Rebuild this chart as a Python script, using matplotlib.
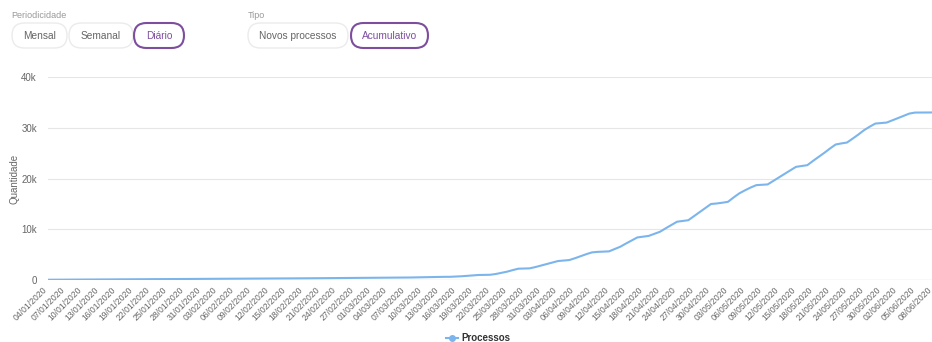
import numpy as np
import pandas as pd
import matplotlib
matplotlib.use("Agg")
import matplotlib.pyplot as plt
import matplotlib.dates as mdates
import matplotlib.transforms as mtransforms
from matplotlib.patches import FancyBboxPatch
from matplotlib.lines import Line2D

plt.rcParams['font.family'] = ['Liberation Sans', 'DejaVu Sans']

# daily cumulative counts, 04/01/2020 .. 08/06/2020 (one row per week, starting Saturday)
processos = [
    50, 52, 60, 68, 76, 84, 92,
    94, 96, 104, 112, 120, 128, 136,
    138, 140, 148, 156, 164, 172, 180,
    182, 184, 192, 200, 208, 216, 224,
    226, 228, 236, 244, 252, 260, 268,
    270, 272, 280, 288, 296, 304, 312,
    314, 316, 324, 332, 340, 348, 356,
    358, 360, 368, 376, 384, 392, 400,
    405, 410, 425, 440, 455, 470, 485,
    490, 495, 520, 545, 570, 595, 620,
    625, 630, 680, 740, 820, 900, 990,
    1010, 1030, 1180, 1400, 1640, 1950, 2230,
    2270, 2300, 2550, 2850, 3150, 3450, 3740,
    3850, 3940, 4300, 4700, 5100, 5450, 5550,
    5600, 5650, 6100, 6570, 7200, 7800, 8400,
    8550, 8700, 9100, 9520, 10200, 10850, 11500,
    11650, 11800, 12600, 13400, 14200, 15000, 15100,
    15250, 15430, 16300, 17100, 17700, 18250, 18720,
    18800, 18860, 19550, 20250, 20950, 21650, 22330,
    22500, 22660, 23500, 24300, 25100, 25950, 26740,
    26950, 27130, 27900, 28700, 29560, 30250, 30870,
    30970, 31070, 31500, 31950, 32400, 32840, 33040,
    33040, 33040, 33060,
]
dias = pd.date_range("2020-01-04", "2020-06-08", freq="D")

periodicidade = ["Mensal", "Semanal", "Diário"]
tipo = ["Novos processos", "Acumulativo"]
y_ticks = [0, 10000, 20000, 30000, 40000]
y_labels = ["0", "10k", "20k", "30k", "40k"]

W, H = 932, 342
fig = plt.figure(figsize=(W / 100, H / 100), dpi=100)
ax = fig.add_axes([48 / W, 1 - 280 / H, 1 - 48 / W, (280 - 77.3) / H])

blue = "#7cb5ec"
ax.plot(dias, processos, color=blue, lw=1.5, label="Processos", zorder=3)

ax.set_xlim(dias[0], dias[-1])
ax.set_ylim(0, 40000)
ax.set_yticks(y_ticks)
ax.set_yticklabels(y_labels)
ax.set_xticks(dias[::3])
ax.xaxis.set_major_formatter(mdates.DateFormatter("%d/%m/%Y"))
for s in ax.spines.values():
    s.set_visible(False)
ax.tick_params(axis="both", length=0, colors="#666666")
ax.tick_params(axis="y", labelsize=7, pad=8)
ax.tick_params(axis="x", labelsize=6.2, pad=4)
shift = mtransforms.ScaledTranslation(-5 / 100, 0, fig.dpi_scale_trans)
for lbl in ax.get_xticklabels():
    lbl.set_rotation(45)
    lbl.set_ha("right")
    lbl.set_va("top")
    lbl.set_rotation_mode("anchor")
    lbl.set_transform(lbl.get_transform() + shift)
ax.grid(axis="y", color="#e6e6e6", lw=0.8)
ax.axhline(0, color="#ccd6eb", lw=0.9, zorder=2)
ax.set_ylabel("Quantidade", fontsize=7, color="#666666")
ax.yaxis.set_label_coords((19 - 48) / (W - 48), 0.5)

handle = Line2D([], [], color=blue, lw=1.5, marker="o", markersize=4)
fig.legend([handle], ["Processos"], loc="center", bbox_to_anchor=(478 / W, 1 - 338 / H),
           frameon=False, prop={"size": 7, "weight": "bold"}, labelcolor="#333333",
           handlelength=1.3, handletextpad=0.3, borderpad=0)

# filter buttons drawn in pixel coordinates
ui = fig.add_axes([0, 0, 1, 1])
ui.set_xlim(0, W)
ui.set_ylim(H, 0)
ui.axis("off")
ui.patch.set_visible(False)

purple = "#7d4e9e"
ui.text(11, 15, "Periodicidade", fontsize=6.5, color="#999999", va="center")
ui.text(248, 15, "Tipo", fontsize=6.5, color="#999999", va="center")

botoes = [(12, 67, periodicidade[0], False), (69, 133, periodicidade[1], False),
          (134, 184, periodicidade[2], True), (248, 348, tipo[0], False),
          (351, 428, tipo[1], True)]
for x0, x1, txt, ativo in botoes:
    box = FancyBboxPatch((x0, 23), x1 - x0, 25, boxstyle="round,pad=0,rounding_size=12.5",
                         fc="white", ec=purple if ativo else "#ebebeb",
                         lw=1.5 if ativo else 1.0)
    ui.add_patch(box)
    ui.text((x0 + x1) / 2, 36, txt, fontsize=7.3, ha="center", va="center",
            color=purple if ativo else "#666666")

fig.savefig("out.png", dpi=100)
